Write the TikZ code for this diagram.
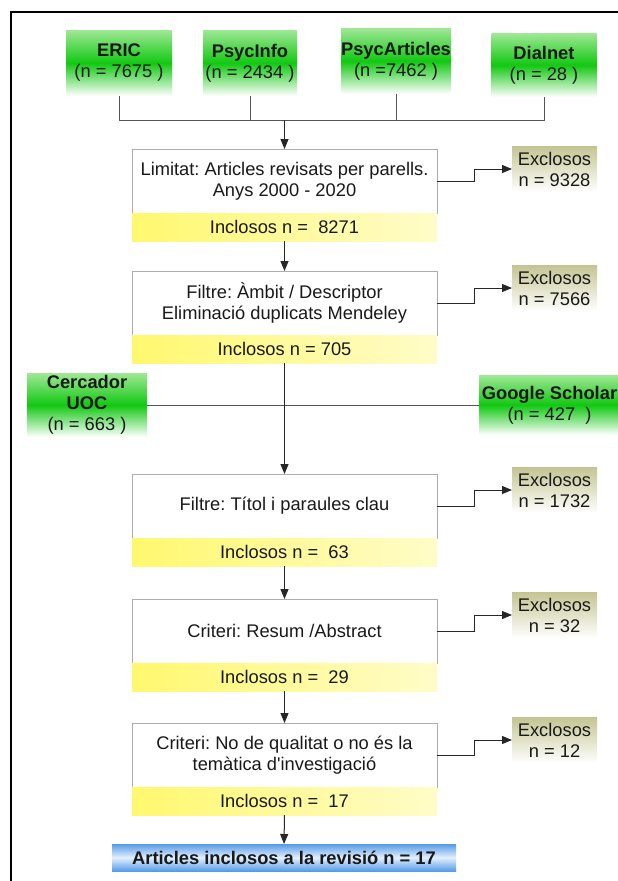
\documentclass[tikz,border=0pt]{standalone}
\usepackage{fontspec}
\setmainfont{Liberation Sans}[Ligatures=TeXOff]
\usetikzlibrary{arrows.meta}
\frenchspacing
\definecolor{gtop}{RGB}{160,232,150}
\definecolor{gmid}{RGB}{18,200,18}
\definecolor{ktop}{RGB}{196,196,146}
\definecolor{yleft}{RGB}{255,248,110}
\definecolor{yright}{RGB}{255,252,200}
\definecolor{btop}{RGB}{85,155,232}
\definecolor{bmid}{RGB}{228,240,253}
\definecolor{txt}{RGB}{25,25,25}
\definecolor{conn}{RGB}{85,85,85}
\tikzset{
  every node/.style={inner sep=0pt, outer sep=0pt, align=center, text=txt,
    font=\fontsize{18.3}{21}\selectfont},
  srcbox/.style={top color=gtop, bottom color=white, middle color=gmid},
  stepbox/.style={draw=black!32, line width=0.8pt, fill=white, minimum width=305pt, minimum height=64pt},
  inclbar/.style={left color=yleft, right color=yright, minimum width=305pt, minimum height=28pt},
  exclbox/.style={top color=ktop, bottom color=white, minimum width=85pt, minimum height=46pt},
  finbar/.style={top color=btop, bottom color=btop, middle color=bmid, minimum width=344pt, minimum height=27pt},
  link/.style={draw=conn, line width=1pt},
  arr/.style={draw=black!85, line width=1pt, -{Triangle[length=10pt,width=8pt]}},
}
\begin{document}
\begin{tikzpicture}[x=1pt,y=-1pt]
\useasboundingbox (0,0) rectangle (618,881);
% frame
\draw[line width=1.3pt, black] (11,900) -- (11,12) -- (640,12);

% sources
\node[srcbox, minimum width=106pt, minimum height=66pt] (eric) at (119,63) {\textbf{ERIC}\\(n = 7675 )};
\node[srcbox, minimum width=94pt, minimum height=66pt] (psycinfo) at (250,63) {\textbf{PsycInfo}\\(n = 2434 )};
\node[srcbox, minimum width=110pt, minimum height=66pt] (psycart) at (396,61) {\textbf{PsycArticles}\\(n =7462 )};
\node[srcbox, minimum width=105pt, minimum height=64pt] (dialnet) at (544,65) {\textbf{Dialnet}\\(n = 28 )};
\coordinate (jt) at (284.5,120);
\draw[link] (eric.south) |- (jt);
\draw[link] (psycinfo.south) |- (jt);
\draw[link] (psycart.south) |- (jt);
\draw[link] (dialnet.south) |- (jt);

% step 1
\node[stepbox] (b1) at (284.5,181) {Limitat: Articles revisats per parells.\\Anys 2000 - 2020};
\node[inclbar] (y1) at (284.5,227) {Inclosos n =~~8271};
\node[exclbox] (e1) at (554.5,169) {Exclosos\\n = 9328};
\draw[arr] (jt) -- (b1.north);
\draw[arr] (b1.east) -- ++(37,0) |- (e1.west);

% step 2
\node[stepbox] (b2) at (284.5,303) {Filtre: Àmbit / Descriptor\\Eliminació duplicats Mendeley};
\node[inclbar] (y2) at (284.5,349) {Inclosos n = 705};
\node[exclbox] (e2) at (554.5,288) {Exclosos\\n = 7566};
\draw[arr] (y1.south) -- (b2.north);
\draw[arr] (b2.east) -- ++(37,0) |- (e2.west);

% extra sources
\node[srcbox, minimum width=120pt, minimum height=64pt] (cuoc) at (87,405) {\textbf{Cercador}\\\textbf{UOC}\\(n = 663 )};
\node[srcbox, minimum width=141pt, minimum height=60pt] (gs) at (549.5,405) {\textbf{Google Scholar}\\(n = 427~~)};
\draw[link] (cuoc.east) -- (gs.west);

% step 3
\node[stepbox] (b3) at (284.5,506) {Filtre: Títol i paraules clau};
\node[inclbar] (y3) at (284.5,552) {Inclosos n =~~63};
\node[exclbox] (e3) at (554.5,490) {Exclosos\\n = 1732};
\draw[arr] (y2.south) -- (b3.north);
\draw[arr] (b3.east) -- ++(37,0) |- (e3.west);

% step 4
\node[stepbox] (b4) at (284.5,631) {Criteri: Resum /Abstract};
\node[inclbar] (y4) at (284.5,677) {Inclosos n =~~29};
\node[exclbox] (e4) at (554.5,615) {Exclosos\\n = 32};
\draw[arr] (y3.south) -- (b4.north);
\draw[arr] (b4.east) -- ++(37,0) |- (e4.west);

% step 5
\node[stepbox] (b5) at (284.5,755) {Criteri: No de qualitat o no és la\\temàtica d'investigació};
\node[inclbar] (y5) at (284.5,801) {Inclosos n =~~17};
\node[exclbox] (e5) at (554.5,740) {Exclosos\\n = 12};
\draw[arr] (y4.south) -- (b5.north);
\draw[arr] (b5.east) -- ++(37,0) |- (e5.west);

% final
\node[finbar] (fin) at (284,857.5) {\textbf{Articles inclosos a la revisió n = 17}};
\draw[arr] (y5.south) -- (fin.north);
\end{tikzpicture}
\end{document}
